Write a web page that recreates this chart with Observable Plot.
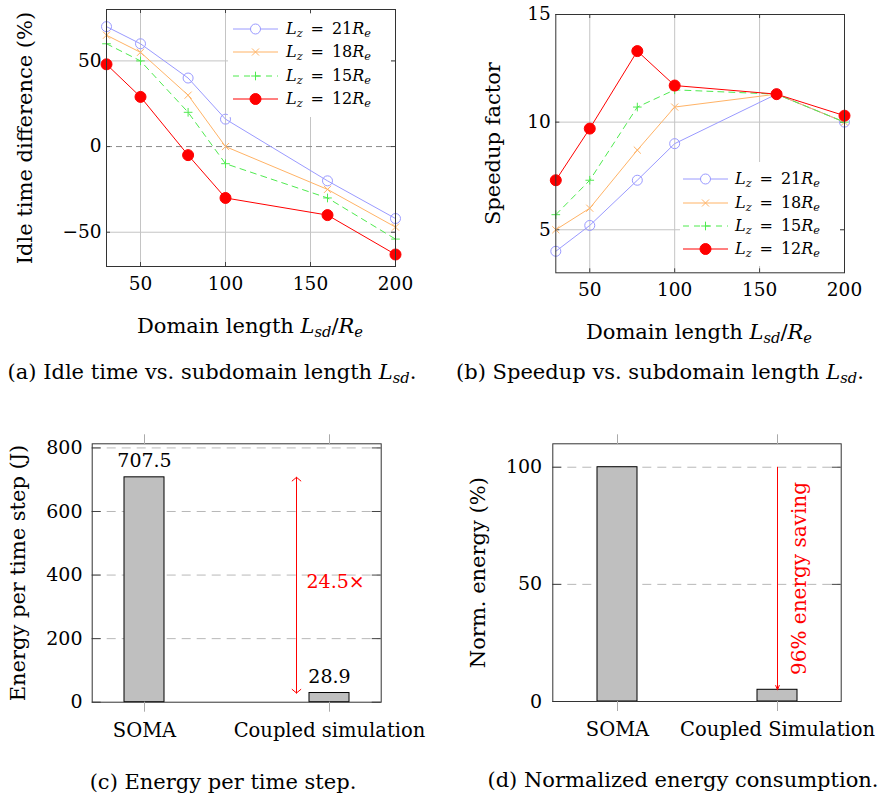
<!DOCTYPE html>
<html><head><meta charset="utf-8">
<script src="https://cdn.jsdelivr.net/npm/d3@7"></script>
<script src="https://cdn.jsdelivr.net/npm/@observablehq/plot@0.6"></script>
<style>
html,body{margin:0;padding:0;background:#fff;}
#page{position:relative;width:885px;height:798px;overflow:hidden;font-family:"DejaVu Serif",serif;color:#000;}
.lbl{position:absolute;transform:translate(-50%,-50%);white-space:nowrap;line-height:1;font-size:21px;}
.sub{font-size:0.7em;position:relative;top:0.28em;font-style:italic;}
.legend{position:absolute;background:#fff;}
.ltxt{position:absolute;transform:translateY(-50%);white-space:nowrap;line-height:1;font-size:16px;}
</style></head><body><div id="page"></div>
<script>
// ---------- data ----------
const lengths = [30, 50, 78, 100, 160, 200];
const seriesNames = ["21", "18", "15", "12"];
const idle21 = [70, 60, 40, 16, -20, -42];
const idle18 = [65, 55, 30, 0, -25, -47];
const idle15 = [60, 50, 20, -10, -30, -54];
const idle12 = [48, 29, -5, -30, -40, -63];
const speed21 = [4.0, 5.2, 7.3, 9.0, 11.3, 10.0];
const speed18 = [5.0, 6.0, 8.7, 10.7, 11.3, 10.0];
const speed15 = [5.7, 7.3, 10.7, 11.5, 11.3, 10.0];
const speed12 = [7.3, 9.7, 13.3, 11.7, 11.3, 10.3];
const energyCats = ["SOMA", "Coupled simulation"];
const energyVals = [707.5, 28.9];
const normCats = ["SOMA", "Coupled Simulation"];
const normVals = [100, 5];
const xTicks = [50, 100, 150, 200];
const idleTicks = [-50, 0, 50];
const speedTicks = [5, 10, 15];
const energyTicks = [0, 200, 400, 600, 800];
const normTicks = [0, 50, 100];

// ---------- styles ----------
const styles = {
  "21": {color: "#9a9aff", symbol: "circle", fill: "none", r: 5, dash: null},
  "18": {color: "#ffb366", symbol: "times", fill: "none", r: 3.3, dash: null},
  "15": {color: "#4fea4f", symbol: "plus", fill: "none", r: 2.9, dash: "6,5"},
  "12": {color: "#ff0000", symbol: "circle", fill: "#ff0000", r: 5.5, dash: null}
};
const gridColor = "#c4c4c4";
const tickColor = "#444";
const frameColor = "#333";
const baseStyle = {fontFamily: "DejaVu Serif, serif", fontSize: "18.5px", background: "transparent", overflow: "visible"};

const page = document.getElementById("page");
function place(el, left, top) {
  el.style.position = "absolute";
  el.style.left = left + "px";
  el.style.top = top + "px";
  page.appendChild(el);
}
function label(html, cx, cy, size) {
  const d = document.createElement("div");
  d.className = "lbl";
  d.innerHTML = html;
  d.style.left = cx + "px";
  d.style.top = cy + "px";
  if (size) d.style.fontSize = size + "px";
  page.appendChild(d);
}

function linePanel({vals, yDomain, yTicks, gridY, dashY, width, height, mL, mR, mT, mB, ylabel, ylabelX}) {
  const rows = [];
  seriesNames.forEach((s, k) => vals[k].forEach((v, i) => rows.push({len: lengths[i], v, s})));
  const fw = width - mL - mR, fh = height - mT - mB;
  const marks = [
    Plot.ruleX(xTicks, {stroke: gridColor, strokeWidth: 1}),
    Plot.ruleY(gridY, {stroke: gridColor, strokeWidth: 1}),
  ];
  if (dashY) marks.push(Plot.ruleY(dashY, {stroke: "#8a8a8a", strokeDasharray: "6,4"}));
  marks.push(
    Plot.tickX(xTicks, {x: d => d, insetTop: fh - 4, stroke: tickColor}),
    Plot.tickX(xTicks, {x: d => d, insetBottom: fh - 4, stroke: tickColor}),
    Plot.tickY(yTicks, {y: d => d, insetRight: fw - 4, stroke: tickColor}),
    Plot.tickY(yTicks, {y: d => d, insetLeft: fw - 4, stroke: tickColor})
  );
  seriesNames.forEach(s => {
    const st = styles[s];
    const data = rows.filter(d => d.s === s);
    marks.push(Plot.line(data, {x: "len", y: "v", stroke: st.color, strokeWidth: 1, strokeDasharray: st.dash}));
    marks.push(Plot.dot(data, {x: "len", y: "v", symbol: st.symbol, r: st.r, stroke: st.color, fill: st.fill, strokeWidth: 1}));
  });
  marks.push(
    Plot.frame({stroke: frameColor}),
    Plot.axisX({ticks: xTicks, tickSize: 0, tickPadding: 10, label: null}),
    Plot.axisY({ticks: yTicks, tickSize: 0, tickPadding: 5, label: null}),
    Plot.text([ylabel], {frameAnchor: "left", textAnchor: "middle", dx: ylabelX - mL, rotate: -90, fontSize: 21, text: d => d})
  );
  return Plot.plot({
    width, height, marginLeft: mL, marginRight: mR, marginTop: mT, marginBottom: mB,
    x: {domain: [30, 200], label: null},
    y: {domain: yDomain, label: null},
    style: baseStyle,
    marks
  });
}

function addLegend({left, top, width, height, rowY0, rowStep, sx0, sx1, textX}) {
  const box = document.createElement("div");
  box.className = "legend";
  box.style.left = left + "px"; box.style.top = top + "px";
  box.style.width = width + "px"; box.style.height = height + "px";
  page.appendChild(box);
  seriesNames.forEach((s, k) => {
    const st = styles[s];
    const y = rowY0 + k * rowStep;
    const w = sx1 - sx0;
    const ns = "http://www.w3.org/2000/svg";
    const svg = document.createElementNS(ns, "svg");
    svg.setAttribute("width", w + 12); svg.setAttribute("height", 20);
    svg.style.position = "absolute"; svg.style.left = (sx0 - 6) + "px"; svg.style.top = (y - 10) + "px";
    svg.style.overflow = "visible";
    const ln = document.createElementNS(ns, "line");
    ln.setAttribute("x1", 6); ln.setAttribute("x2", 6 + w); ln.setAttribute("y1", 10); ln.setAttribute("y2", 10);
    ln.setAttribute("stroke", st.color); ln.setAttribute("stroke-width", 1);
    if (st.dash) ln.setAttribute("stroke-dasharray", st.dash);
    svg.appendChild(ln);
    const cx = 6 + w / 2;
    if (st.symbol === "circle") {
      const c = document.createElementNS(ns, "circle");
      c.setAttribute("cx", cx); c.setAttribute("cy", 10); c.setAttribute("r", st.r);
      c.setAttribute("stroke", st.color); c.setAttribute("fill", st.fill === "none" ? "#fff" : st.fill);
      svg.appendChild(c);
    } else {
      const p = document.createElementNS(ns, "path");
      const sym = st.symbol === "times" ? d3.symbolTimes : d3.symbolPlus;
      p.setAttribute("d", d3.symbol(sym, Math.PI * st.r * st.r)());
      p.setAttribute("transform", `translate(${cx},10)`);
      p.setAttribute("stroke", st.color); p.setAttribute("fill", "none");
      svg.appendChild(p);
    }
    box.appendChild(svg);
    const t = document.createElement("div");
    t.className = "ltxt";
    t.style.left = textX + "px"; t.style.top = y + "px";
    t.innerHTML = `<i>L</i><span class="sub">z</span>&ensp;=&ensp;${s}<i>R</i><span class="sub">e</span>`;
    box.appendChild(t);
  });
}

// ---------- (a) ----------
const pa = linePanel({vals: [idle21, idle18, idle15, idle12], yDomain: [-70, 80], yTicks: idleTicks,
  gridY: [-50, 50], dashY: [0], width: 440, height: 300, mL: 106, mR: 45, mT: 9, mB: 34,
  ylabel: "Idle time difference (%)", ylabelX: 25});
place(pa, 0, 0);
// ---------- (b) ----------
const pb = linePanel({vals: [speed21, speed18, speed15, speed12], yDomain: [3, 15], yTicks: speedTicks,
  gridY: [5, 10], dashY: null, width: 445, height: 305, mL: 115.3, mR: 41, mT: 14, mB: 32.7,
  ylabel: "Speedup factor", ylabelX: 53});
place(pb, 440, 0);

addLegend({left: 228, top: 14, width: 163, height: 103, rowY0: 15, rowStep: 23.33, sx0: 5, sx1: 50, textX: 58});
addLegend({left: 680, top: 162, width: 160, height: 104, rowY0: 17.3, rowStep: 23.25, sx0: 3, sx1: 48, textX: 55});

const xl = `Domain length <i>L</i><span class="sub">sd</span>/<i>R</i><span class="sub">e</span>`;
label(xl, 250, 326);
label(xl, 699, 331.7);
label(`(a) Idle time vs. subdomain length <i>L</i><span class="sub">sd</span>.`, 212, 372);
label(`(b) Speedup vs. subdomain length <i>L</i><span class="sub">sd</span>.`, 660, 372);

// ---------- bar panels ----------
function barPanel({cats, vals, yDomain, yTicks, pi, po, width, height, mL, mR, mT, mB, ylabel, ylabelX, tickPad, extra}) {
  const data = cats.map((c, i) => ({c, v: vals[i]}));
  const fw = width - mL - mR;
  return Plot.plot({
    width, height, marginLeft: mL, marginRight: mR, marginTop: mT, marginBottom: mB,
    x: {domain: cats, paddingInner: pi, paddingOuter: po, label: null},
    y: {domain: yDomain, label: null},
    style: baseStyle,
    marks: [
      Plot.ruleY(yTicks.filter(t => t > 0), {stroke: "#b8b8b8", strokeDasharray: "9,6"}),
      Plot.tickY(yTicks, {y: d => d, insetRight: fw - 9, stroke: tickColor}),
      Plot.tickY(yTicks, {y: d => d, insetLeft: fw - 9, stroke: tickColor}),
      Plot.barY(data, {x: "c", y: "v", fill: "#bfbfbf", stroke: "#000", strokeWidth: 1}),
      ...extra(data),
      Plot.frame({stroke: frameColor}),
      Plot.axisX({anchor: "bottom", tickSize: 10, tickPadding: 11, stroke: "#aaa", fill: "#000", label: null, fontSize: 19.5}),
      Plot.axisX({anchor: "top", tickSize: 10, stroke: "#aaa", tickFormat: () => "", label: null}),
      Plot.axisY({ticks: yTicks, tickSize: 0, tickPadding: tickPad, label: null, fontSize: 19}),
      Plot.text([ylabel], {frameAnchor: "left", textAnchor: "middle", dx: ylabelX - mL, rotate: -90, fontSize: 21, text: d => d})
    ]
  });
}

const mid = (energyVals[0] + energyVals[1]) / 2;
const pc = barPanel({cats: energyCats, vals: energyVals, yDomain: [0, 813], yTicks: energyTicks,
  pi: 0.784, po: 0.172, width: 440, height: 330, mL: 91.7, mR: 59.3, mT: 23.3, mB: 48.3,
  ylabel: "Energy per time step (J)", ylabelX: 17.5, tickPad: 9.7,
  extra: data => [
    Plot.text(data, {x: "c", y: "v", text: d => d.v.toFixed(1), dy: -16, fontSize: 19}),
    Plot.arrow([energyVals[0], energyVals[1]].map(v => ({c: energyCats[1], from: mid, to: v})),
      {x1: "c", x2: "c", y1: "from", y2: "to", stroke: "red", strokeWidth: 1, headAngle: 100, headLength: 8.5, dx: -33}),
    Plot.text([{c: energyCats[1], y: mid}], {x: "c", y: "y", text: () => (energyVals[0] / energyVals[1]).toFixed(1) + "×",
      dx: -23, dy: -3, textAnchor: "start", fill: "red", fontSize: 19})
  ]});
place(pc, 0, 420);

const nmid = (normVals[0] + normVals[1]) / 2;
const pd = barPanel({cats: normCats, vals: normVals, yDomain: [0, 110], yTicks: normTicks,
  pi: 0.75, po: 0.276, width: 445, height: 330, mL: 112.3, mR: 44.3, mT: 23.3, mB: 49,
  ylabel: "Norm. energy (%)", ylabelX: 38, tickPad: 10.6,
  extra: data => [
    Plot.arrow([{c: normCats[1], from: normVals[0], to: normVals[1]}],
      {x1: "c", x2: "c", y1: "from", y2: "to", stroke: "red", strokeWidth: 1, headAngle: 45, headLength: 7}),
    Plot.text([{c: normCats[1], y: nmid}], {x: "c", y: "y", text: () => "96% energy saving",
      rotate: -90, dx: 22, fill: "red", fontSize: 20})
  ]});
place(pd, 440, 420);

label("(c) Energy per time step.", 223, 781.7);
label("(d) Normalized energy consumption.", 683, 780);
</script></body></html>
